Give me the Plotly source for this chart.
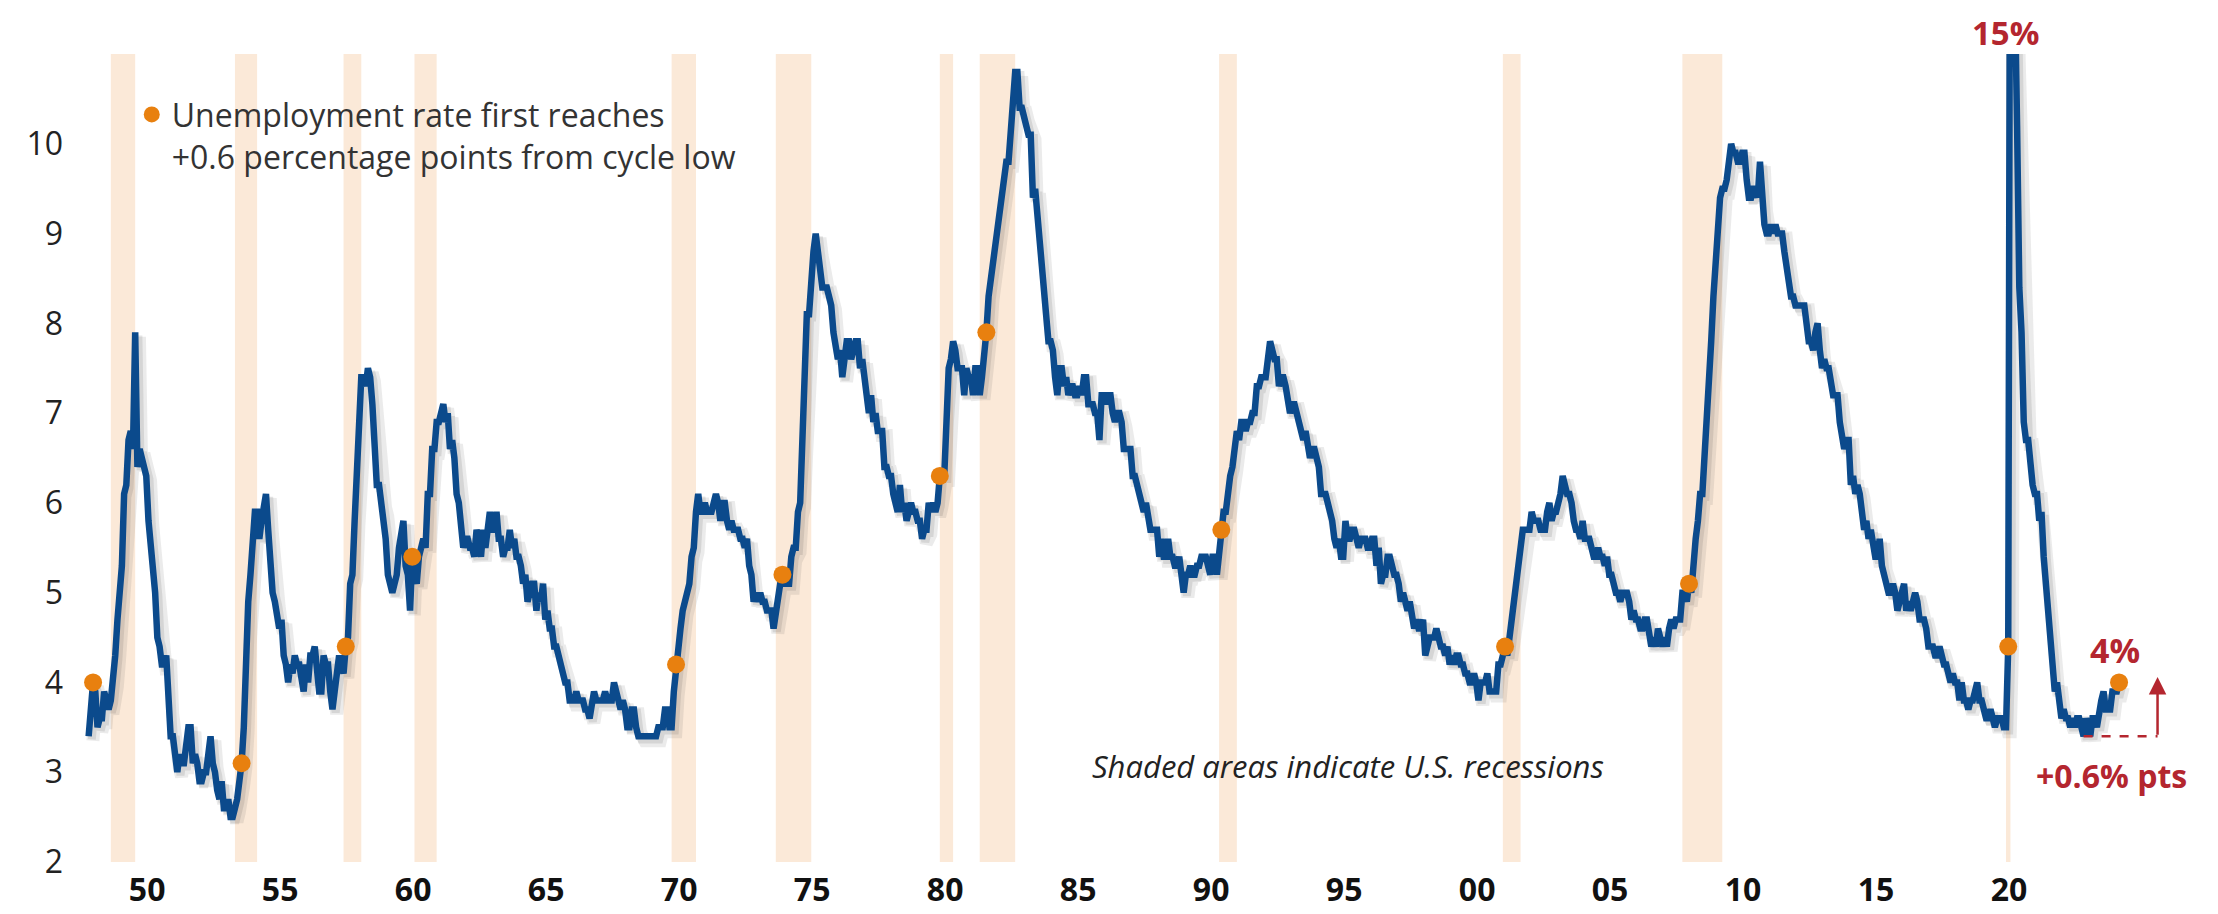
import plotly.graph_objects as go

# ---------------- data ----------------
START_YEAR = 1948
# Monthly U.S. civilian unemployment rate (%), Jan 1948 - May 2024, one row per year
unemployment_rate = [
    3.4, 3.8, 4.0, 3.9, 3.5, 3.6, 3.6, 3.9, 3.8, 3.7, 3.8, 4.0,   # 1948
    4.3, 4.7, 5.0, 5.3, 6.1, 6.2, 6.7, 6.8, 6.6, 7.9, 6.4, 6.6,   # 1949
    6.5, 6.4, 6.3, 5.8, 5.5, 5.4, 5.0, 4.5, 4.4, 4.2, 4.2, 4.3,   # 1950
    3.7, 3.4, 3.4, 3.1, 3.0, 3.2, 3.1, 3.1, 3.3, 3.5, 3.5, 3.1,   # 1951
    3.2, 3.1, 2.9, 2.9, 3.0, 3.0, 3.2, 3.4, 3.1, 3.0, 2.8, 2.7,   # 1952
    2.9, 2.6, 2.6, 2.7, 2.5, 2.5, 2.6, 2.7, 2.9, 3.1, 3.5, 4.5,   # 1953
    4.9, 5.2, 5.7, 5.9, 5.9, 5.6, 5.8, 6.0, 6.1, 5.7, 5.3, 5.0,   # 1954
    4.9, 4.7, 4.6, 4.7, 4.3, 4.2, 4.0, 4.2, 4.1, 4.3, 4.2, 4.2,   # 1955
    4.0, 3.9, 4.2, 4.0, 4.3, 4.3, 4.4, 4.1, 3.9, 3.9, 4.3, 4.2,   # 1956
    4.2, 3.9, 3.7, 3.9, 4.1, 4.3, 4.2, 4.1, 4.4, 4.5, 5.1, 5.2,   # 1957
    5.8, 6.4, 6.7, 7.4, 7.4, 7.3, 7.5, 7.4, 7.1, 6.7, 6.2, 6.2,   # 1958
    6.0, 5.9, 5.6, 5.2, 5.1, 5.0, 5.1, 5.2, 5.5, 5.7, 5.8, 5.3,   # 1959
    5.2, 4.8, 5.4, 5.2, 5.1, 5.4, 5.5, 5.6, 5.5, 6.1, 6.1, 6.6,   # 1960
    6.6, 6.9, 6.9, 7.0, 7.1, 6.9, 7.0, 6.6, 6.7, 6.5, 6.1, 6.0,   # 1961
    5.8, 5.5, 5.6, 5.6, 5.5, 5.5, 5.4, 5.7, 5.6, 5.4, 5.7, 5.5,   # 1962
    5.7, 5.9, 5.7, 5.7, 5.9, 5.6, 5.6, 5.4, 5.5, 5.5, 5.7, 5.5,   # 1963
    5.6, 5.4, 5.4, 5.3, 5.1, 5.2, 4.9, 5.0, 5.1, 5.1, 4.8, 5.0,   # 1964
    4.9, 5.1, 4.7, 4.8, 4.6, 4.6, 4.4, 4.4, 4.3, 4.2, 4.1, 4.0,   # 1965
    4.0, 3.8, 3.8, 3.8, 3.9, 3.8, 3.8, 3.8, 3.7, 3.7, 3.6, 3.8,   # 1966
    3.9, 3.8, 3.8, 3.8, 3.8, 3.9, 3.8, 3.8, 3.8, 4.0, 3.9, 3.8,   # 1967
    3.7, 3.8, 3.7, 3.5, 3.5, 3.7, 3.7, 3.5, 3.4, 3.4, 3.4, 3.4,   # 1968
    3.4, 3.4, 3.4, 3.4, 3.4, 3.5, 3.5, 3.5, 3.7, 3.7, 3.5, 3.5,   # 1969
    3.9, 4.2, 4.4, 4.6, 4.8, 4.9, 5.0, 5.1, 5.4, 5.5, 5.9, 6.1,   # 1970
    5.9, 5.9, 6.0, 5.9, 5.9, 5.9, 6.0, 6.1, 6.0, 5.8, 6.0, 6.0,   # 1971
    5.8, 5.7, 5.8, 5.7, 5.7, 5.7, 5.6, 5.6, 5.5, 5.6, 5.3, 5.2,   # 1972
    4.9, 5.0, 4.9, 5.0, 4.9, 4.9, 4.8, 4.8, 4.8, 4.6, 4.8, 4.9,   # 1973
    5.1, 5.2, 5.1, 5.1, 5.1, 5.4, 5.5, 5.5, 5.9, 6.0, 6.6, 7.2,   # 1974
    8.1, 8.1, 8.6, 8.8, 9.0, 8.8, 8.6, 8.4, 8.4, 8.4, 8.3, 8.2,   # 1975
    7.9, 7.7, 7.6, 7.7, 7.4, 7.6, 7.8, 7.8, 7.6, 7.7, 7.8, 7.8,   # 1976
    7.5, 7.6, 7.4, 7.2, 7.0, 7.2, 6.9, 7.0, 6.8, 6.8, 6.8, 6.4,   # 1977
    6.4, 6.3, 6.3, 6.1, 6.0, 5.9, 6.2, 5.9, 6.0, 5.8, 5.9, 6.0,   # 1978
    5.9, 5.9, 5.8, 5.8, 5.6, 5.7, 5.7, 6.0, 5.9, 6.0, 5.9, 6.0,   # 1979
    6.3, 6.3, 6.3, 6.9, 7.5, 7.6, 7.8, 7.7, 7.5, 7.5, 7.5, 7.2,   # 1980
    7.5, 7.4, 7.4, 7.2, 7.5, 7.5, 7.2, 7.4, 7.6, 7.9, 8.3, 8.5,   # 1981
    8.6, 8.9, 9.0, 9.3, 9.4, 9.6, 9.8, 9.8, 10.1, 10.4, 10.8, 10.8,  # 1982
    10.4, 10.4, 10.3, 10.2, 10.1, 10.1, 9.4, 9.5, 9.2, 8.8, 8.5, 8.3,  # 1983
    8.0, 7.8, 7.8, 7.7, 7.4, 7.2, 7.5, 7.5, 7.3, 7.4, 7.2, 7.3,   # 1984
    7.3, 7.2, 7.2, 7.3, 7.2, 7.4, 7.4, 7.1, 7.1, 7.1, 7.0, 7.0,   # 1985
    6.7, 7.2, 7.2, 7.1, 7.2, 7.2, 7.0, 6.9, 7.0, 7.0, 6.9, 6.6,   # 1986
    6.6, 6.6, 6.6, 6.3, 6.3, 6.2, 6.1, 6.0, 5.9, 6.0, 5.8, 5.7,   # 1987
    5.7, 5.7, 5.7, 5.4, 5.6, 5.4, 5.4, 5.6, 5.4, 5.4, 5.3, 5.3,   # 1988
    5.4, 5.2, 5.0, 5.2, 5.2, 5.3, 5.2, 5.2, 5.3, 5.3, 5.4, 5.4,   # 1989
    5.4, 5.3, 5.2, 5.4, 5.4, 5.2, 5.5, 5.7, 5.9, 5.9, 6.2, 6.3,   # 1990
    6.4, 6.6, 6.8, 6.7, 6.9, 6.9, 6.8, 6.9, 6.9, 7.0, 7.0, 7.3,   # 1991
    7.3, 7.4, 7.4, 7.4, 7.6, 7.8, 7.7, 7.6, 7.6, 7.3, 7.4, 7.4,   # 1992
    7.3, 7.1, 7.0, 7.1, 7.1, 7.0, 6.9, 6.8, 6.7, 6.8, 6.6, 6.5,   # 1993
    6.6, 6.6, 6.5, 6.4, 6.1, 6.1, 6.1, 6.0, 5.9, 5.8, 5.6, 5.5,   # 1994
    5.6, 5.4, 5.4, 5.8, 5.6, 5.6, 5.7, 5.7, 5.6, 5.5, 5.6, 5.6,   # 1995
    5.6, 5.5, 5.5, 5.6, 5.6, 5.3, 5.5, 5.1, 5.2, 5.2, 5.4, 5.4,   # 1996
    5.3, 5.2, 5.2, 5.1, 4.9, 5.0, 4.9, 4.8, 4.9, 4.7, 4.6, 4.7,   # 1997
    4.6, 4.6, 4.7, 4.3, 4.4, 4.5, 4.5, 4.5, 4.6, 4.5, 4.4, 4.4,   # 1998
    4.3, 4.4, 4.2, 4.3, 4.2, 4.3, 4.3, 4.2, 4.2, 4.1, 4.1, 4.0,   # 1999
    4.0, 4.1, 4.0, 3.8, 4.0, 4.0, 4.0, 4.1, 3.9, 3.9, 3.9, 3.9,   # 2000
    4.2, 4.2, 4.3, 4.4, 4.3, 4.5, 4.6, 4.9, 5.0, 5.3, 5.5, 5.7,   # 2001
    5.7, 5.7, 5.7, 5.9, 5.8, 5.8, 5.8, 5.7, 5.7, 5.7, 5.9, 6.0,   # 2002
    5.8, 5.9, 5.9, 6.0, 6.1, 6.3, 6.2, 6.1, 6.1, 6.0, 5.8, 5.7,   # 2003
    5.7, 5.6, 5.8, 5.6, 5.6, 5.6, 5.5, 5.4, 5.4, 5.5, 5.4, 5.4,   # 2004
    5.3, 5.4, 5.2, 5.2, 5.1, 5.0, 5.0, 4.9, 5.0, 5.0, 5.0, 4.9,   # 2005
    4.7, 4.8, 4.7, 4.7, 4.6, 4.6, 4.7, 4.7, 4.5, 4.4, 4.5, 4.4,   # 2006
    4.6, 4.5, 4.4, 4.5, 4.4, 4.6, 4.7, 4.6, 4.7, 4.7, 4.7, 5.0,   # 2007
    5.0, 4.9, 5.1, 5.0, 5.4, 5.6, 5.8, 6.1, 6.1, 6.5, 6.8, 7.3,   # 2008
    7.8, 8.3, 8.7, 9.0, 9.4, 9.5, 9.5, 9.6, 9.8, 10.0, 9.9, 9.9,  # 2009
    9.8, 9.8, 9.9, 9.9, 9.6, 9.4, 9.4, 9.5, 9.5, 9.4, 9.8, 9.3,   # 2010
    9.1, 9.0, 9.0, 9.1, 9.0, 9.1, 9.0, 9.0, 9.0, 8.8, 8.6, 8.5,   # 2011
    8.3, 8.3, 8.2, 8.2, 8.2, 8.2, 8.2, 8.0, 7.8, 7.8, 7.7, 7.9,   # 2012
    8.0, 7.7, 7.5, 7.6, 7.5, 7.5, 7.3, 7.2, 7.2, 7.2, 6.9, 6.7,   # 2013
    6.6, 6.7, 6.7, 6.2, 6.3, 6.1, 6.2, 6.1, 5.9, 5.7, 5.8, 5.6,   # 2014
    5.7, 5.5, 5.4, 5.4, 5.6, 5.3, 5.2, 5.1, 5.0, 5.0, 5.1, 5.0,   # 2015
    4.8, 4.9, 5.0, 5.1, 4.8, 4.9, 4.8, 4.9, 5.0, 4.9, 4.7, 4.7,   # 2016
    4.7, 4.6, 4.4, 4.4, 4.4, 4.3, 4.3, 4.4, 4.3, 4.2, 4.2, 4.1,   # 2017
    4.0, 4.1, 4.0, 4.0, 3.8, 4.0, 3.8, 3.8, 3.7, 3.8, 3.8, 3.9,   # 2018
    4.0, 3.8, 3.8, 3.7, 3.6, 3.6, 3.7, 3.6, 3.5, 3.6, 3.6, 3.6,   # 2019
    3.5, 3.5, 4.4, 14.8, 13.2, 11.0, 10.2, 8.4, 7.9, 6.9, 6.7, 6.7,  # 2020
    6.4, 6.2, 6.1, 6.1, 5.8, 5.9, 5.4, 5.1, 4.7, 4.5, 4.2, 3.9,   # 2021
    4.0, 3.8, 3.6, 3.7, 3.6, 3.6, 3.5, 3.6, 3.5, 3.6, 3.6, 3.5,   # 2022
    3.4, 3.6, 3.5, 3.4, 3.6, 3.6, 3.5, 3.7, 3.8, 3.9, 3.7, 3.7,   # 2023
    3.7, 3.9, 3.9, 3.9, 4.0,                                       # 2024
]

# NBER recessions (peak month, trough month)
recession_start = ["1948-11", "1953-07", "1957-08", "1960-04", "1969-12", "1973-11",
                   "1980-01", "1981-07", "1990-07", "2001-03", "2007-12", "2020-02"]
recession_end = ["1949-10", "1954-05", "1958-04", "1961-02", "1970-11", "1975-03",
                 "1980-07", "1982-11", "1991-03", "2001-11", "2009-06", "2020-04"]

# Months when the unemployment rate first reaches +0.6 pp from its cycle low
trigger_months = ["1948-03", "1953-10", "1957-09", "1960-03", "1970-02", "1974-02",
                  "1980-01", "1981-10", "1990-08", "2001-04", "2008-03", "2020-03", "2024-05"]

cycle_low_month = "2023-01"   # latest cycle low (3.4%)
x_tick_years = list(range(1950, 2021, 5))
x_tick_text = ["50", "55", "60", "65", "70", "75", "80", "85", "90", "95",
               "00", "05", "10", "15", "20"]
y_tick_vals = [2, 3, 4, 5, 6, 7, 8, 9, 10]

# ---------------- helpers ----------------
def to_dec(ym):
    y, m = ym.split("-")
    return int(y) + (int(m) - 1) / 12.0

def idx(ym):
    y, m = ym.split("-")
    return (int(y) - START_YEAR) * 12 + int(m) - 1

x_dates = [START_YEAR + i / 12.0 for i in range(len(unemployment_rate))]

BLUE = "#0b4a8c"
ORANGE = "#e8800f"
RED = "#b4262f"
SHADE = "#fbe9d8"
FONT = "Open Sans"

fig = go.Figure()

# soft drop shadow under the line
fig.add_trace(go.Scatter(
    x=[v + 0.16 for v in x_dates], y=[v - 0.05 for v in unemployment_rate],
    mode="lines", line=dict(color="rgba(60,60,60,0.10)", width=13),
    hoverinfo="skip", showlegend=False))
fig.add_trace(go.Scatter(
    x=[v + 0.12 for v in x_dates], y=[v - 0.035 for v in unemployment_rate],
    mode="lines", line=dict(color="rgba(60,60,60,0.12)", width=8),
    hoverinfo="skip", showlegend=False))

fig.add_trace(go.Scatter(
    x=x_dates, y=unemployment_rate, mode="lines",
    line=dict(color=BLUE, width=6.5, shape="linear"),
    name="Unemployment rate", showlegend=False))

fig.add_trace(go.Scatter(
    x=[x_dates[idx(m)] for m in trigger_months],
    y=[unemployment_rate[idx(m)] for m in trigger_months],
    mode="markers", marker=dict(color=ORANGE, size=18, line=dict(width=0)),
    name="Unemployment rate first reaches<br>+0.6 percentage points from cycle low",
    showlegend=True, cliponaxis=False))

shapes = []
for s, e in zip(recession_start, recession_end):
    shapes.append(dict(type="rect", xref="x", yref="y", x0=to_dec(s), x1=to_dec(e),
                       y0=2, y1=11, fillcolor=SHADE, line=dict(width=0), layer="below"))

last_i = len(unemployment_rate) - 1
low_i = idx(cycle_low_month)
arrow_x = 2025.78
shapes.append(dict(type="line", xref="x", yref="y",
                   x0=x_dates[low_i], x1=arrow_x,
                   y0=unemployment_rate[low_i], y1=unemployment_rate[low_i],
                   line=dict(color=RED, width=2.5, dash="dash"), layer="above"))

peak_i = max(range(len(unemployment_rate)), key=lambda i: unemployment_rate[i])

annotations = [
    dict(x=x_dates[peak_i], y=1, xref="x", yref="paper", text="<b>15%</b>",
         showarrow=False, xanchor="center", yanchor="top", xshift=-5, yshift=46,
         font=dict(family=FONT, size=33, color=RED)),
    dict(x=x_dates[last_i], y=unemployment_rate[last_i], xref="x", yref="y",
         text="<b>4%</b>", showarrow=False, xanchor="center", yanchor="middle",
         xshift=-4, yshift=32, font=dict(family=FONT, size=34, color=RED)),
    dict(x=x_dates[last_i], y=unemployment_rate[low_i], xref="x", yref="y",
         text="<b>+0.6% pts</b>", showarrow=False, xanchor="center", yanchor="middle",
         xshift=-8, yshift=-39, font=dict(family=FONT, size=32, color=RED)),
    dict(x=arrow_x, y=4.06, xref="x", yref="y", ax=arrow_x, ay=unemployment_rate[low_i],
         axref="x", ayref="y", text="", showarrow=True, arrowhead=2, arrowsize=1.4,
         arrowwidth=2.5, arrowcolor=RED, standoff=0, startstandoff=0),
    dict(x=1995.35, y=3.07, xref="x", yref="y",
         text="<i>Shaded areas indicate U.S. recessions</i>", showarrow=False,
         xanchor="center", yanchor="middle",
         font=dict(family=FONT, size=31, color="#222222")),
]

fig.update_layout(
    width=2218, height=914,
    margin=dict(l=70, r=40, t=46, b=48),
    paper_bgcolor="white", plot_bgcolor="white",
    font=dict(family=FONT, color="#222222"),
    shapes=shapes, annotations=annotations,
    showlegend=True,
    legend=dict(x=0.0255, y=0.959, xanchor="left", yanchor="top",
                bgcolor="rgba(0,0,0,0)", borderwidth=0, valign="top",
                font=dict(family=FONT, size=32, color="#333333"),
                itemsizing="trace"),
    xaxis=dict(range=[1947.60, 2026.85], showgrid=False, zeroline=False,
               showline=False, ticks="",
               tickvals=[y + 0.2 for y in x_tick_years], ticktext=x_tick_text,
               tickfont=dict(family=FONT, size=32, color="#111111", weight="bold"),
               ticklabelstandoff=6),
    yaxis=dict(range=[2, 11], showgrid=False, zeroline=False, showline=False,
               ticks="", tickvals=y_tick_vals, ticktext=[str(v) for v in y_tick_vals],
               tickfont=dict(family=FONT, size=32, color="#222222"),
               ticklabelstandoff=14),
)

fig.write_html("out.html")
